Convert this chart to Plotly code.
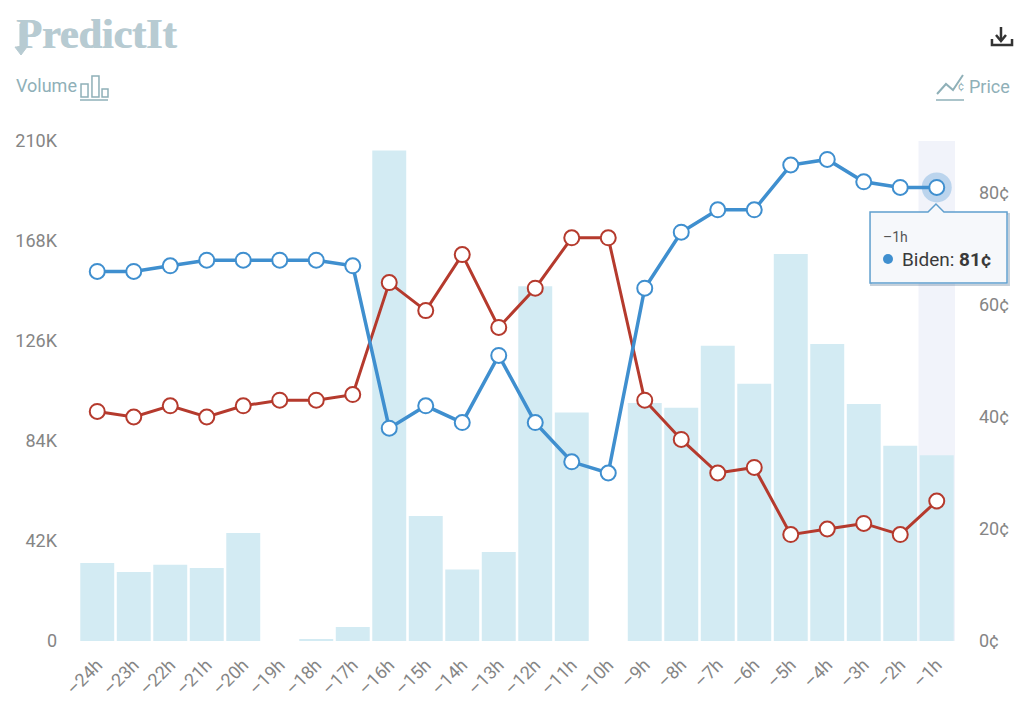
import plotly.graph_objects as go

W = 1024
H = 701
L, R, T, B = 79, 955, 141, 641

hours = ["–24h", "–23h", "–22h", "–21h", "–20h", "–19h", "–18h", "–17h", "–16h", "–15h", "–14h", "–13h",
         "–12h", "–11h", "–10h", "–9h", "–8h", "–7h", "–6h", "–5h", "–4h", "–3h", "–2h", "–1h"]
volume = [32800, 29000, 32000, 30700, 45400, 0, 800, 5900, 206000, 52500, 30000, 37400,
          149000, 96000, 0, 100000, 98000, 124000, 108000, 162500, 124700, 99500, 82000, 78000]
biden = [66, 66, 67, 68, 68, 68, 68, 67, 38, 42, 39, 51, 39, 32, 30, 63, 73, 77, 77, 85, 86, 82, 81, 81]
trump = [41, 40, 42, 40, 42, 43, 43, 44, 64, 59, 69, 56, 63, 72, 72, 43, 36, 30, 31, 19, 20, 21, 19, 25]
vol_ticks = [0, 42000, 84000, 126000, 168000, 210000]
vol_labels = ["0", "42K", "84K", "126K", "168K", "210K"]
price_ticks = [0, 20, 40, 60, 80]
price_labels = ["0¢", "20¢", "40¢", "60¢", "80¢"]

BLUE = "#3f8fcf"
RED = "#b53a2d"
BAR = "#d3ebf3"
GREY = "#858585"
TEAL = "#8fb0b8"
LOGO = "#b7cbd2"
FONT = "Roboto"


# pixel position to paper coords, for the things round the chart
def px(x):
    return (x - L) / (R - L)


def py(y):
    return (B - y) / (B - T)


def path(points, close=False):
    s = "M" + " L".join(f"{px(x):.4f},{py(y):.4f}" for x, y in points)
    return s + (" Z" if close else "")


def pshape(points, color, width=1.5, fill=None, close=False):
    return dict(type="path", xref="paper", yref="paper", path=path(points, close),
                line=dict(color=color, width=width), fillcolor=fill, layer="above")


def box(x0, y0, x1, y1):
    return pshape([(x0, y0), (x1, y0), (x1, y1), (x0, y1)], TEAL, 1.5, None, True)


def text(x, y, s, size=16, color=GREY, anchor="left", family=FONT, shadow=None):
    font = dict(family=family, size=size, color=color)
    if shadow:
        font["shadow"] = shadow
    return dict(xref="paper", yref="paper", x=px(x), y=py(y), text=s, showarrow=False,
                xanchor=anchor, yanchor="middle", font=font)


fig = go.Figure()
fig.add_trace(go.Bar(x=hours, y=volume, marker=dict(color=BAR, line_width=0), yaxis="y", name="Volume"))
fig.add_trace(go.Scatter(x=hours, y=trump, mode="lines+markers", yaxis="y2", name="Trump",
                         line=dict(color=RED, width=3),
                         marker=dict(size=15, color="white", line=dict(color=RED, width=2))))
# halo on the hovered point
fig.add_trace(go.Scatter(x=hours[-1:], y=biden[-1:], mode="markers", yaxis="y2", hoverinfo="skip",
                         marker=dict(size=30, color="rgba(63,143,207,0.3)", line_width=0)))
fig.add_trace(go.Scatter(x=hours, y=biden, mode="lines+markers", yaxis="y2", name="Biden",
                         line=dict(color=BLUE, width=3.5),
                         marker=dict(size=15, color="white", line=dict(color=BLUE, width=2))))

shapes = [
    # hover band
    dict(type="rect", xref="x", yref="paper", x0=22.5, x1=23.5, y0=0, y1=1,
         fillcolor="rgba(215,220,240,0.35)", line_width=0, layer="below"),
    # logo arrow
    pshape([(20, 24), (20, 47), (15, 47), (21, 55), (27, 47), (22, 47), (22, 24)], LOGO, 1, LOGO, True),
    # volume icon
    box(81, 84, 88, 97), box(92, 76, 99, 97), box(102, 89, 108, 97),
    pshape([(80, 100), (108, 100)], TEAL),
    # price icon
    pshape([(937, 94), (946, 84), (953, 90), (963, 75)], TEAL, 2),
    pshape([(936, 100), (964, 100)], TEAL),
    # download icon
    pshape([(1001, 27), (1001, 40)], "#333333", 2.5),
    pshape([(996, 35), (1001, 41), (1006, 35)], "#333333", 2.5),
    pshape([(992, 39), (992, 45), (1012, 45), (1012, 39)], "#333333", 2.5),
    # tooltip shadow, then box with its notch
    pshape([(871, 214), (1009, 214), (1009, 285), (871, 285)], "rgba(90,120,150,0.35)", 2, None, True),
    pshape([(870, 212), (928, 212), (936, 204), (944, 212), (1007, 212), (1007, 283), (870, 283)],
           "#5f9fce", 1.5, "#f6f8fb", True),
    dict(type="circle", xref="paper", yref="paper", x0=px(883), x1=px(893), y0=py(264), y1=py(254),
         fillcolor=BLUE, line_width=0, layer="above"),
]

annotations = [
    text(14, 34, "<b>PredictIt</b>", 42, LOGO, family="Liberation Serif", shadow=f"1px 0 0 {LOGO}"),
    text(14, 86, "Volume", 18, TEAL),
    text(1012, 87, "Price", 18, TEAL, "right"),
    text(956, 87, "¢", 11, TEAL),
    text(881, 237, "–1h", 14, "#555555"),
    text(900, 259, "Biden: <b>81¢</b>", 19, "#3a3a3a"),
]

fig.update_layout(
    width=W, height=H, autosize=False,
    margin=dict(l=L, r=W - R, t=T, b=H - B, pad=0),
    paper_bgcolor="white", plot_bgcolor="white",
    showlegend=False, bargap=0.07,
    font=dict(family=FONT, size=18, color=GREY),
    shapes=shapes, annotations=annotations,
    xaxis=dict(type="category", tickangle=-45, showgrid=False, zeroline=False, showline=False, automargin=False,
               ticks="", tickfont=dict(size=18, color=GREY), range=[-0.5, 23.5], ticklabelstandoff=9),
    yaxis=dict(range=[0, 210000], tickvals=vol_ticks, ticktext=vol_labels, showgrid=False,
               zeroline=False, ticks="", automargin=False, ticklabelstandoff=21),
    yaxis2=dict(range=[0, 89.29], tickvals=price_ticks, ticktext=price_labels, overlaying="y", side="right",
                showgrid=False, zeroline=False, ticks="", automargin=False, ticklabelstandoff=23),
)

fig.write_html("out.html", config=dict(displayModeBar=False),
               post_script="document.body.style.margin='0';")
